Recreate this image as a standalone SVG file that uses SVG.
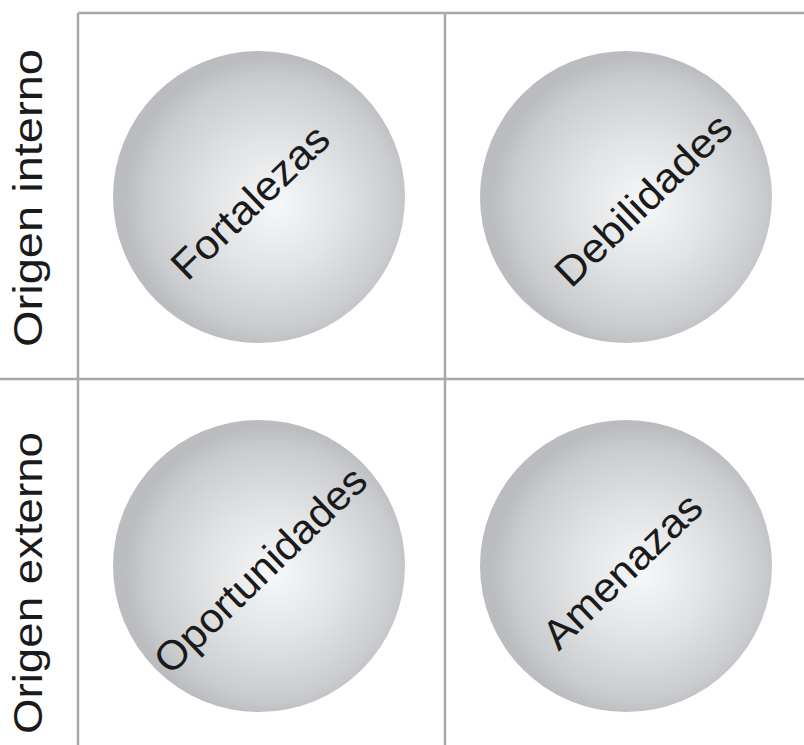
<svg xmlns="http://www.w3.org/2000/svg" width="804" height="745" viewBox="0 0 804 745">
  <style>
    .grid { stroke: #a9a9a9; stroke-width: 2.5; fill: none; }
    .ball { fill: url(#sphere); }
    .lbl { font-family: "Liberation Sans", Arial, sans-serif; fill: #1a1a1a; text-anchor: middle; }
    .side { font-size: 40px; }
    .diag { font-size: 41px; }
  </style>
  <defs>
    <radialGradient id="sphere" cx="0.54" cy="0.52" r="0.5" fx="0.56" fy="0.53">
      <stop offset="0" stop-color="#f6f7f8"/>
      <stop offset="0.45" stop-color="#e2e3e5"/>
      <stop offset="0.85" stop-color="#cacccf"/>
      <stop offset="1" stop-color="#babcbf"/>
    </radialGradient>
  </defs>
  <rect width="804" height="745" fill="#ffffff"/>

  <g id="grid">
    <line class="grid" x1="78" y1="13" x2="804" y2="13"/>
    <line class="grid" x1="78" y1="13" x2="78" y2="745"/>
    <line class="grid" x1="445" y1="13" x2="445" y2="745"/>
    <line class="grid" x1="0" y1="379" x2="804" y2="379"/>
  </g>

  <g id="row-labels">
    <text class="lbl side" transform="translate(42,198) rotate(-90)" textLength="298" lengthAdjust="spacingAndGlyphs">Origen interno</text>
    <text class="lbl side" transform="translate(42,583) rotate(-90)" textLength="302" lengthAdjust="spacingAndGlyphs">Origen externo</text>
  </g>

  <g id="fortalezas">
    <circle class="ball" cx="259" cy="197" r="146"/>
    <text class="lbl diag" transform="translate(260,212) rotate(-44)" textLength="202" lengthAdjust="spacingAndGlyphs">Fortalezas</text>
  </g>
  <g id="debilidades">
    <circle class="ball" cx="626" cy="197" r="146"/>
    <text class="lbl diag" transform="translate(653,210) rotate(-44)" textLength="228" lengthAdjust="spacingAndGlyphs">Debilidades</text>
  </g>
  <g id="oportunidades">
    <circle class="ball" cx="259" cy="566" r="146"/>
    <text class="lbl diag" transform="translate(270,580) rotate(-44)" textLength="277" lengthAdjust="spacingAndGlyphs">Oportunidades</text>
  </g>
  <g id="amenazas">
    <circle class="ball" cx="626" cy="566" r="146"/>
    <text class="lbl diag" transform="translate(632,581) rotate(-44)" textLength="204" lengthAdjust="spacingAndGlyphs">Amenazas</text>
  </g>
</svg>
